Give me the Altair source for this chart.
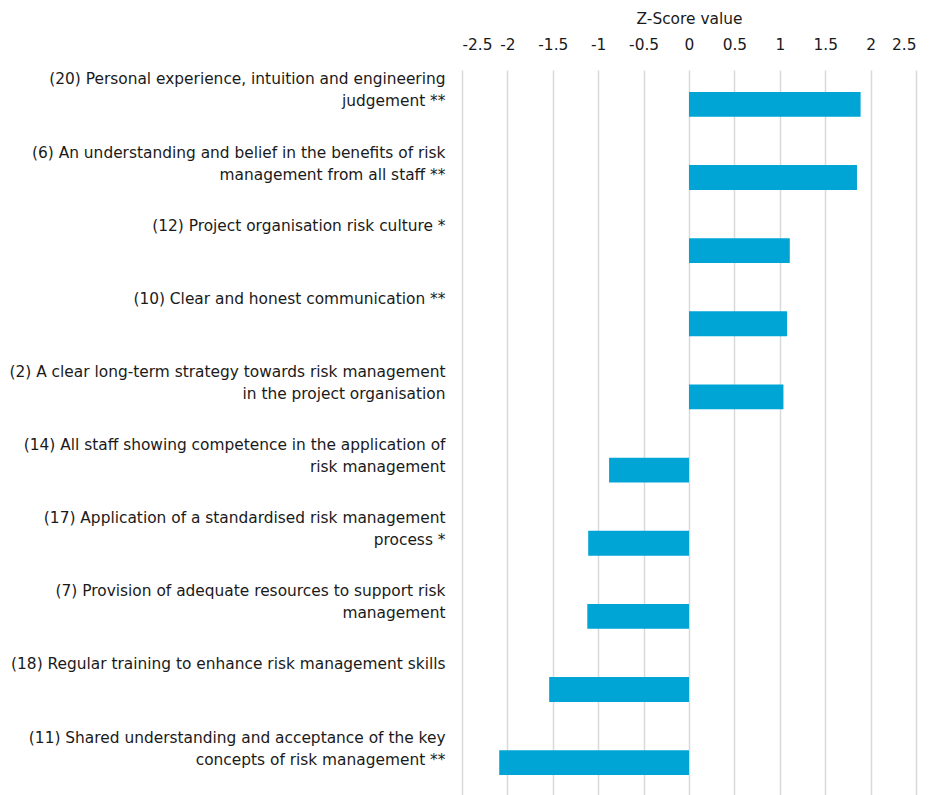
import altair as alt
import pandas as pd

labels = [
    "(20) Personal experience, intuition and engineering|judgement **",
    "(6) An understanding and belief in the benefits of risk|management from all staff **",
    "(12) Project organisation risk culture *",
    "(10) Clear and honest communication **",
    "(2) A clear long-term strategy towards risk management|in the project organisation",
    "(14) All staff showing competence in the application of|risk management",
    "(17) Application of a standardised risk management|process *",
    "(7) Provision of adequate resources to support risk|management",
    "(18) Regular training to enhance risk management skills",
    "(11) Shared understanding and acceptance of the key|concepts of risk management **",
]
zscores = [1.89, 1.85, 1.11, 1.08, 1.04, -0.88, -1.11, -1.12, -1.54, -2.09]
x_ticks = [-2.5, -2, -1.5, -1, -0.5, 0, 0.5, 1, 1.5, 2, 2.5]

df = pd.DataFrame({"factor": labels, "z": zscores})

FONT = "DejaVu Sans"
FS = 15.4

chart = (
    alt.Chart(df)
    .mark_bar(color="#00A5D6")
    .encode(
        x=alt.X(
            "z:Q",
            scale=alt.Scale(domain=[-2.5, 2.5], nice=False, zero=False),
            axis=alt.Axis(
                orient="top",
                title="Z-Score value",
                values=x_ticks,
                labelExpr="datum.value",
                ticks=False,
                domain=False,
                grid=True,
                gridColor="#d9d9d9",
                gridWidth=1.5,
                labelFont=FONT,
                labelFontSize=FS,
                labelColor="#1a1a1a",
                labelPadding=18,
                titleFont=FONT,
                titleFontSize=FS,
                titleFontWeight="normal",
                titleColor="#1a1a1a",
                titlePadding=11,
            ),
        ),
        y=alt.Y(
            "factor:N",
            sort=None,
            scale=alt.Scale(paddingInner=0.66, paddingOuter=0.30),
            axis=alt.Axis(
                title=None,
                labelExpr="split(datum.label, '|')",
                labelAlign="right",
                labelBaseline="top",
                labelOffset=-32,
                labelPadding=17,
                labelLimit=500,
                labelFont=FONT,
                labelFontSize=FS,
                labelLineHeight=22,
                labelColor="#1a1a1a",
                ticks=False,
                domain=False,
                grid=False,
            ),
        ),
    )
    .properties(
        width=454,
        height=727,
        padding={"left": 0, "top": 3, "right": 5, "bottom": 0},
    )
    .configure_view(stroke=None)
)

chart.save("out.html", embed_options={"renderer": "svg", "actions": False})
